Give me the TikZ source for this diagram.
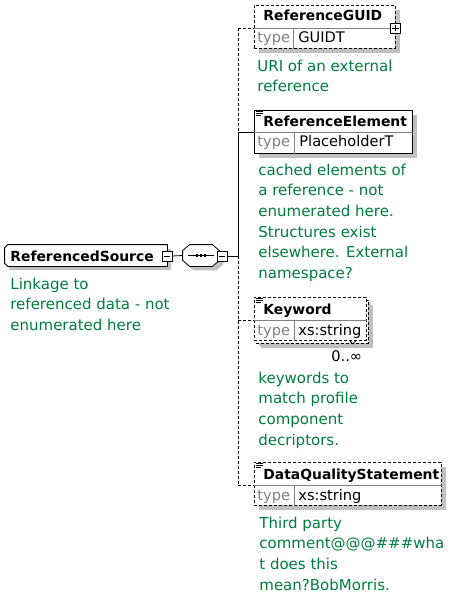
\documentclass[tikz,border=0pt]{standalone}
\usepackage{fontspec}
\setmainfont{DejaVu Sans}
\usetikzlibrary{shadows}
\definecolor{docgreen}{RGB}{0,124,62}
\definecolor{typegray}{RGB}{128,128,128}
\definecolor{shadegray}{RGB}{192,192,192}
\tikzset{
  elbox/.style={draw, fill=white, anchor=north west, inner sep=0pt, minimum height=43pt,
    drop shadow={shadow xshift=5pt,shadow yshift=-5pt,fill=shadegray,opacity=1}},
  eltitle/.style={anchor=base west, inner sep=0pt, font=\fontsize{13.9}{16}\bfseries},
  eltype/.style={anchor=base west, inner sep=0pt, text=typegray, font=\fontsize{14.6}{16}\selectfont},
  elval/.style={anchor=base west, inner sep=0pt, font=\fontsize{14.6}{16}\selectfont},
  eldoc/.style={anchor=north west, inner sep=0pt, align=left, text=docgreen, font=\fontsize{15}{20.6}\selectfont},
  divider/.style={draw=typegray},
  optline/.style={dash pattern=on 3pt off 2pt},
  toggle/.style={draw, fill=white, minimum size=10pt, inner sep=0pt},
  holder/.style={inner sep=0pt, minimum height=21pt},
}
\begin{document}
\begin{tikzpicture}[x=1pt,y=-1pt,line width=0.8pt]
    \useasboundingbox (0,0) rectangle (460,601);
    % bus and its taps
    \coordinate (busguid) at (238,28);
    \coordinate (buselem) at (238,132);
    \coordinate (busseq) at (238,256);
    \coordinate (buskw) at (238,320);
    \coordinate (busdqs) at (238,485);
    \draw[optline] (busguid) -- (buselem);
    \draw (buselem) -- (busseq);
    \draw[optline] (busseq) -- (busdqs);
    % root element
    \node[holder, minimum width=162pt] (src) at (86,255.5) {};
    \fill[shadegray] ([xshift=4pt,yshift=-4pt]src.south west) rectangle ([xshift=4pt,yshift=-4pt]src.north east);
    \draw[fill=white] ([xshift=3pt]src.north west) -- (src.north east) -- (src.south east) -- ([xshift=3pt]src.south west)
      -- ([yshift=3pt]src.south west) -- ([yshift=-3pt]src.north west) -- cycle;
    \node[eltitle] (srcname) at (10,261) {ReferencedSource};
    \node[toggle] (srctoggle) at (167,256) {};
    \draw ([xshift=2pt]srctoggle.west) -- ([xshift=-2pt]srctoggle.east);
    \node[eldoc] (srcdoc) at (10,277.5) {Linkage to\\referenced data - not\\enumerated here};
    % sequence
    \node[holder, minimum width=36pt] (seq) at (201,255.5) {};
    \fill[shadegray] ([xshift=11pt,yshift=-4pt]seq.north west) -- ([xshift=-3pt,yshift=-4pt]seq.north east) -- ([xshift=4pt,yshift=-10pt]seq.north east)
      -- ([xshift=4pt,yshift=2pt]seq.south east) -- ([xshift=-3pt,yshift=-4pt]seq.south east) -- ([xshift=11pt,yshift=-4pt]seq.south west)
      -- ([xshift=4pt,yshift=2pt]seq.south west) -- ([xshift=4pt,yshift=-10pt]seq.north west) -- cycle;
    \draw[fill=white] ([xshift=7pt]seq.north west) -- ([xshift=-7pt]seq.north east) -- ([yshift=-6pt]seq.north east)
      -- ([yshift=6pt]seq.south east) -- ([xshift=-7pt]seq.south east) -- ([xshift=7pt]seq.south west)
      -- ([yshift=6pt]seq.south west) -- ([yshift=-6pt]seq.north west) -- cycle;
    \draw ([xshift=5pt]seq.west) -- ([xshift=-5pt]seq.east);
    \foreach \d in {-4,0,4} \fill ([xshift=\d pt-1.3pt,yshift=-1.3pt]seq.center) rectangle +(2.6pt,2.6pt);
    \node[toggle] (seqtoggle) at (222,256) {};
    \draw ([xshift=2pt]seqtoggle.west) -- ([xshift=-2pt]seqtoggle.east);
    \draw (srctoggle.east) -- (seq.west);
    \draw (seqtoggle.east) -- (busseq);
    % ReferenceGUID
    \node[elbox, optline, minimum width=141pt] (guid) at (254,5) {};
    \draw[divider] ([yshift=-23pt]guid.north west) -- ([yshift=-23pt]guid.north east);
    \draw[divider] ([xshift=39pt,yshift=-23pt]guid.north west) -- ([xshift=39pt]guid.south west);
    \node[eltitle] (guidname) at (263,21) {ReferenceGUID};
    \node[eltype] (guidkey) at (257,43) {type};
    \node[elval] (guidval) at (298,43) {GUIDT};
    \node[toggle] (guidtoggle) at ([yshift=-23pt]guid.north east) {};
    \draw ([xshift=2pt]guidtoggle.west) -- ([xshift=-2pt]guidtoggle.east);
    \draw ([yshift=-2pt]guidtoggle.north) -- ([yshift=2pt]guidtoggle.south);
    \draw[optline] (busguid) -- (busguid -| guid.west);
    \node[eldoc] (guiddoc) at (257,59.5) {URI of an external\\reference};
    % ReferenceElement
    \node[elbox, minimum width=158pt] (elem) at (254,110) {};
    \draw[divider] ([yshift=-22pt]elem.north west) -- ([yshift=-22pt]elem.north east);
    \draw[divider] ([xshift=40pt,yshift=-22pt]elem.north west) -- ([xshift=40pt]elem.south west);
    \draw ([xshift=2pt,yshift=-1.5pt]elem.north west) -- +(7pt,0) ([xshift=2pt,yshift=-3.5pt]elem.north west) -- +(7pt,0)
      ([xshift=2pt,yshift=-5.5pt]elem.north west) -- +(5pt,0);
    \node[eltitle] (elemname) at (263,127) {ReferenceElement};
    \node[eltype] (elemkey) at (257,147) {type};
    \node[elval] (elemval) at (299,147) {PlaceholderT};
    \draw (buselem) -- (buselem -| elem.west);
    \node[eldoc] (elemdoc) at (258,163.5) {cached elements of\\a reference - not\\enumerated here.\\Structures exist\\elsewhere. External\\namespace?};
    % Keyword
    \node[elbox, optline, minimum width=112pt, drop shadow={shadow xshift=3pt,shadow yshift=-3pt,fill=shadegray,opacity=1}] (kwback) at (256,300) {};
    \node[draw, fill=white, optline, anchor=north west, inner sep=0pt, minimum height=43pt, minimum width=112pt] (kw) at (254,297) {};
    \draw[divider] ([yshift=-23pt]kw.north west) -- ([yshift=-23pt]kw.north east);
    \draw[divider] ([xshift=40pt,yshift=-23pt]kw.north west) -- ([xshift=40pt]kw.south west);
    \draw ([xshift=2pt,yshift=-1.5pt]kw.north west) -- +(7pt,0) ([xshift=2pt,yshift=-3.5pt]kw.north west) -- +(7pt,0)
      ([xshift=2pt,yshift=-5.5pt]kw.north west) -- +(5pt,0);
    \draw ([xshift=-17pt]kw.south east) -- ++(3pt,-3pt) -- ++(3pt,3pt);
    \node[eltitle] (kwname) at (263,314) {Keyword};
    \node[eltype] (kwkey) at (257,335) {type};
    \node[elval] (kwval) at (298,335) {xs:string};
    \node[elval] (kwocc) at (331,361) {0..∞};
    \draw[optline] (buskw) -- (buskw -| kw.west);
    \node[eldoc] (kwdoc) at (258,371.5) {keywords to\\match profile\\component\\decriptors.};
    % DataQualityStatement
    \node[elbox, optline, minimum width=187pt] (dqs) at (254,462) {};
    \draw[divider] ([yshift=-23pt]dqs.north west) -- ([yshift=-23pt]dqs.north east);
    \draw[divider] ([xshift=40pt,yshift=-23pt]dqs.north west) -- ([xshift=40pt]dqs.south west);
    \draw ([xshift=2pt,yshift=-1.5pt]dqs.north west) -- +(7pt,0) ([xshift=2pt,yshift=-3.5pt]dqs.north west) -- +(7pt,0)
      ([xshift=2pt,yshift=-5.5pt]dqs.north west) -- +(5pt,0);
    \node[eltitle] (dqsname) at (263,479) {DataQualityStatement};
    \node[eltype] (dqskey) at (257,500) {type};
    \node[elval] (dqsval) at (298,500) {xs:string};
    \draw[optline] (busdqs) -- (busdqs -| dqs.west);
    \node[eldoc] (dqsdoc) at (259,516.5) {Third party\\comment@@@\#\#\#wha\\t does this\\mean?BobMorris.};
\end{tikzpicture}
\end{document}
